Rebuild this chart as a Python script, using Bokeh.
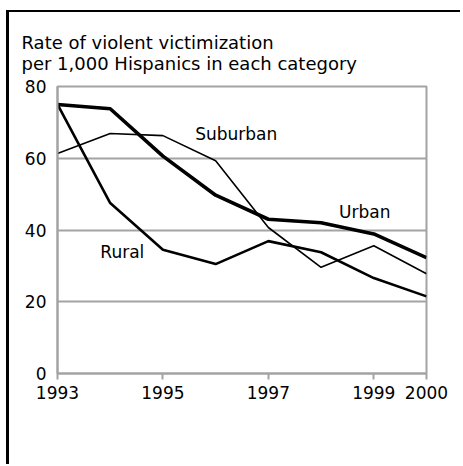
from bokeh.plotting import figure
from bokeh.models import Label, Range1d, FixedTicker
from bokeh.embed import file_html
from bokeh.resources import INLINE

years = [1993, 1994, 1995, 1996, 1997, 1998, 1999, 2000]
urban = [75.0, 73.8, 60.6, 49.7, 43.0, 42.0, 38.9, 32.3]
suburban = [61.3, 66.9, 66.3, 59.3, 40.7, 29.6, 35.6, 27.8]
rural = [75.0, 47.5, 34.5, 30.5, 36.9, 33.8, 26.6, 21.5]
x_ticks = [1993, 1995, 1997, 1999, 2000]
y_ticks = [0, 20, 40, 60, 80]
title_lines = ["Rate of violent victimization", "per 1,000 Hispanics in each category"]

FONT = "DejaVu Sans"
GRAY = "#a3a3a3"

p = figure(width=454, height=454, output_backend="svg", toolbar_location=None,
           x_range=Range1d(1993, 2000), y_range=Range1d(0, 80),
           min_border_left=48, min_border_right=37, min_border_top=74, min_border_bottom=93)
p.styles = {"margin-left": "6px", "margin-top": "10px",
            "border-left": "3px solid black", "border-top": "2px solid black"}

p.title.text = "\n".join(title_lines)
p.title.align = "left"
p.title.offset = -36
p.title.standoff = 26
p.title.text_font = FONT
p.title.text_font_size = "18px"
p.title.text_font_style = "normal"
p.title.text_color = "black"

p.background_fill_color = "white"
p.border_fill_color = "white"
p.outline_line_color = GRAY
p.outline_line_width = 2

p.xgrid.grid_line_color = None
p.ygrid.grid_line_color = GRAY
p.ygrid.grid_line_width = 2
p.ygrid.ticker = FixedTicker(ticks=y_ticks)

p.xaxis.ticker = FixedTicker(ticks=x_ticks)
p.xaxis.axis_line_color = GRAY
p.xaxis.axis_line_width = 2
p.xaxis.major_tick_line_color = GRAY
p.xaxis.major_tick_line_width = 2
p.xaxis.major_tick_out = 6
p.xaxis.major_tick_in = 0
p.xaxis.minor_tick_line_color = None
p.xaxis.major_label_standoff = 6
p.xaxis.major_label_text_font = FONT
p.xaxis.major_label_text_font_size = "17px"
p.xaxis.major_label_text_color = "black"

p.yaxis.ticker = FixedTicker(ticks=y_ticks)
p.yaxis.axis_line_color = GRAY
p.yaxis.axis_line_width = 2
p.yaxis.major_tick_line_color = None
p.yaxis.major_tick_out = 0
p.yaxis.major_tick_in = 0
p.yaxis.minor_tick_line_color = None
p.yaxis.major_label_standoff = 11
p.yaxis.major_label_text_font = FONT
p.yaxis.major_label_text_font_size = "17px"
p.yaxis.major_label_text_color = "black"

p.line(years, suburban, line_color="black", line_width=1.6)
p.line(years, rural, line_color="black", line_width=2.6)
p.line(years, urban, line_color="black", line_width=3.6)

series_labels = [("Suburban", 1996.39, 66.7), ("Urban", 1998.83, 45.1), ("Rural", 1994.23, 34.0)]
for txt, lx, ly in series_labels:
    p.add_layout(Label(x=lx, y=ly, text=txt, text_align="center", text_baseline="middle",
                       text_font=FONT, text_font_size="17px", text_color="black"))

open("out.html", "w").write(file_html(p, INLINE))
